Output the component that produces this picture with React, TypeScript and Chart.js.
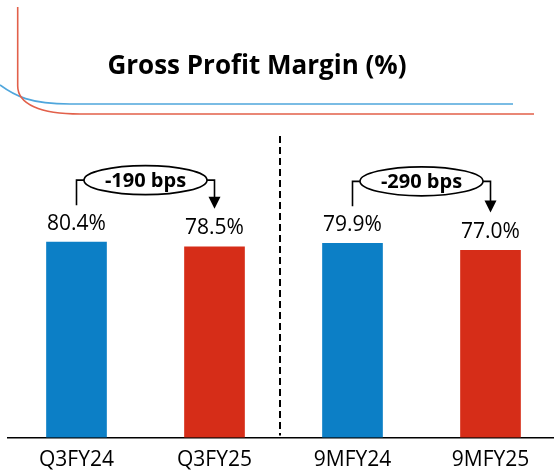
import React, { useEffect, useRef } from "react";
import { Chart, registerables } from "chart.js";

Chart.register(...registerables);

// ---- data ----
const categories = ["Q3FY24", "Q3FY25", "9MFY24", "9MFY25"];
const marginValues = [80.4, 78.5, 79.9, 77.0];
const changeLabels = ["-190 bps", "-290 bps"];
const titleText = "Gross Profit Margin (%)";

// ---- styles ----
const BLUE = "#0c7fc6";
const RED = "#d62d18";
const barColors = [BLUE, RED, BLUE, RED];
const FONT = "'Open Sans', 'DejaVu Sans', sans-serif";

const decorPlugin = {
  id: "decor",
  beforeDraw(chart: any) {
    const ctx = chart.ctx as CanvasRenderingContext2D;
    ctx.save();
    ctx.fillStyle = "#ffffff";
    ctx.fillRect(0, 0, chart.width, chart.height);

    // decorative header lines
    ctx.lineWidth = 1.6;
    ctx.strokeStyle = "#4fa6dc";
    ctx.beginPath();
    ctx.moveTo(0, 85);
    ctx.bezierCurveTo(15, 96, 30, 104, 70, 104);
    ctx.lineTo(513, 104);
    ctx.stroke();

    ctx.strokeStyle = "#e2604a";
    ctx.beginPath();
    ctx.moveTo(17.7, 7);
    ctx.lineTo(17.7, 86);
    ctx.bezierCurveTo(17.7, 104, 40, 114, 80, 114);
    ctx.lineTo(534, 114);
    ctx.stroke();

    // title
    ctx.fillStyle = "#000000";
    ctx.font = `bold 26px ${FONT}`;
    ctx.textAlign = "center";
    ctx.textBaseline = "alphabetic";
    ctx.fillText(titleText, 257, 74);
    ctx.restore();
  },
  afterDatasetsDraw(chart: any) {
    const ctx = chart.ctx as CanvasRenderingContext2D;
    const bars = chart.getDatasetMeta(0).data;
    ctx.save();

    // value labels
    ctx.fillStyle = "#000000";
    ctx.font = `21px ${FONT}`;
    ctx.textAlign = "center";
    ctx.textBaseline = "middle";
    bars.forEach((b: any, i: number) => {
      ctx.fillText(`${marginValues[i].toFixed(1)}%`, b.x, b.y - 18.5);
    });

    // dashed divider
    const midX = (bars[1].x + bars[2].x) / 2 - 3.5;
    ctx.strokeStyle = "#000000";
    ctx.lineWidth = 2;
    ctx.setLineDash([7, 4]);
    ctx.beginPath();
    ctx.moveTo(midX, 136);
    ctx.lineTo(midX, chart.chartArea.bottom - 2);
    ctx.stroke();
    ctx.setLineDash([]);

    // change annotations
    for (let p = 0; p < changeLabels.length; p++) {
      const L = bars[2 * p];
      const R = bars[2 * p + 1];
      const yH = L.y - 62;
      const cx = (L.x + R.x) / 2;
      const rx = 61.5;
      const ry = 14.5;
      ctx.strokeStyle = "#000000";
      ctx.lineWidth = 1.6;
      ctx.beginPath();
      ctx.moveTo(L.x, L.y - 37);
      ctx.lineTo(L.x, yH);
      ctx.lineTo(cx - rx, yH);
      ctx.moveTo(cx + rx, yH);
      ctx.lineTo(R.x, yH);
      ctx.lineTo(R.x, R.y - 49);
      ctx.stroke();
      // arrow head
      ctx.fillStyle = "#000000";
      ctx.beginPath();
      ctx.moveTo(R.x - 6, R.y - 50);
      ctx.lineTo(R.x + 6, R.y - 50);
      ctx.lineTo(R.x, R.y - 38);
      ctx.closePath();
      ctx.fill();
      // ellipse
      ctx.beginPath();
      ctx.ellipse(cx, yH, rx, ry, 0, 0, Math.PI * 2);
      ctx.fillStyle = "#ffffff";
      ctx.fill();
      ctx.stroke();
      ctx.fillStyle = "#000000";
      ctx.font = `bold 20px ${FONT}`;
      ctx.textAlign = "center";
      ctx.textBaseline = "middle";
      ctx.fillText(changeLabels[p], cx, yH + 1);
    }
    ctx.restore();
  },
};

export default function App() {
  const ref = useRef<HTMLCanvasElement | null>(null);
  useEffect(() => {
    if (!ref.current) return;
    const chart = new Chart(ref.current, {
      type: "bar",
      data: {
        labels: categories,
        datasets: [
          {
            data: marginValues,
            backgroundColor: barColors,
            borderWidth: 0,
            barThickness: 60,
          },
        ],
      },
      options: {
        responsive: false,
        animation: false,
        devicePixelRatio: 1,
        layout: { padding: { left: 7.5, right: 0.5, top: 194.5, bottom: 0 } },
        plugins: {
          legend: { display: false },
          tooltip: { enabled: false },
          title: { display: false },
        },
        scales: {
          x: {
            grid: { display: false, drawTicks: false },
            border: { display: true, color: "#000000", width: 1.6 },
            ticks: {
              color: "#000000",
              padding: 10,
              font: { family: FONT, size: 21 },
            },
            afterFit: (scale: any) => {
              scale.height = 33.5;
            },
          },
          y: {
            display: false,
            min: 0,
            max: 100,
          },
        },
      },
      plugins: [decorPlugin],
    });
    return () => chart.destroy();
  }, []);
  return (
    <div
      style={{
        position: "absolute",
        left: 0,
        top: 0,
        width: 554,
        height: 471,
        overflow: "hidden",
        background: "#fff",
      }}
    >
      <canvas ref={ref} width={560} height={471} style={{ width: 560, height: 471, display: "block" }} />
    </div>
  );
}
